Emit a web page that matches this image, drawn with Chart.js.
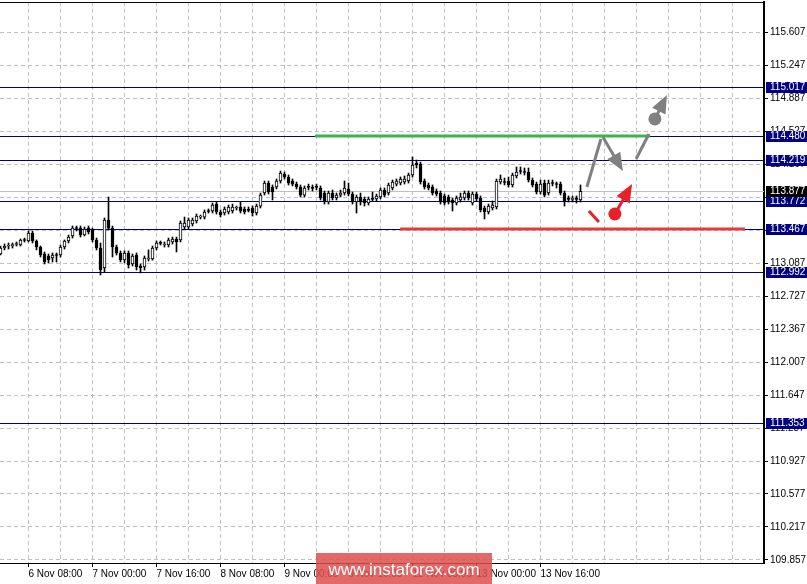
<!DOCTYPE html>
<html>
<head>
<meta charset="utf-8">
<script src="https://cdn.jsdelivr.net/npm/chart.js@4.4.1/dist/chart.umd.min.js"></script>
<style>
  html, body { margin: 0; padding: 0; background: #fff; }
  #wrap { width: 807px; height: 584px; position: relative; }
</style>
</head>
<body>
<div id="wrap"><canvas id="chart" width="807" height="584"></canvas></div>
<script>
// H1 candles, left to right (bar index 0 = 6 Nov 01:00)
const opens = [113.193,113.258,113.280,113.285,113.297,113.291,113.346,113.335,113.422,113.335,
  113.269,113.193,113.171,113.149,113.182,113.182,113.269,113.335,113.389,113.476,
  113.476,113.400,113.476,113.455,113.346,113.258,113.040,113.564,113.476,113.269,
  113.204,113.127,113.204,113.084,113.182,113.062,113.051,113.138,113.138,113.258,
  113.313,113.291,113.291,113.324,113.357,113.346,113.487,113.487,113.520,113.553,
  113.596,113.596,113.662,113.662,113.738,113.651,113.640,113.651,113.662,113.695,
  113.706,113.684,113.673,113.695,113.640,113.716,113.858,113.967,113.924,113.924,
  113.989,114.066,114.033,113.989,113.956,113.924,113.836,113.924,113.913,113.924,
  113.913,113.858,113.760,113.858,113.804,113.836,113.858,113.902,113.847,113.760,
  113.815,113.793,113.749,113.793,113.793,113.815,113.891,113.858,113.913,113.956,
  113.967,113.978,113.989,114.055,114.185,114.175,113.989,113.946,113.924,113.880,
  113.858,113.826,113.815,113.782,113.749,113.782,113.804,113.858,113.749,113.847,
  113.804,113.695,113.651,113.695,113.706,113.978,113.978,113.989,113.946,114.044,
  114.098,114.087,114.087,114.000,113.956,113.869,113.967,113.858,113.967,113.956,
  113.956,113.858,113.793,113.788,113.793,113.782];
const closes = [113.258,113.280,113.291,113.295,113.302,113.346,113.340,113.422,113.335,113.269,
  113.182,113.106,113.127,113.182,113.177,113.269,113.335,113.378,113.476,113.471,
  113.400,113.466,113.433,113.346,113.258,113.018,113.564,113.476,113.269,113.204,
  113.127,113.204,113.073,113.171,113.051,113.040,113.149,113.143,113.258,113.313,
  113.308,113.297,113.346,113.357,113.324,113.531,113.531,113.564,113.564,113.607,
  113.601,113.651,113.657,113.727,113.651,113.618,113.684,113.706,113.706,113.700,
  113.662,113.651,113.668,113.640,113.716,113.836,113.967,113.869,113.869,113.989,
  114.076,114.033,113.967,113.956,113.924,113.836,113.913,113.919,113.908,113.919,
  113.804,113.760,113.858,113.804,113.836,113.858,113.913,113.847,113.760,113.815,
  113.760,113.749,113.793,113.788,113.826,113.891,113.836,113.946,113.978,113.989,
  114.011,114.011,114.055,114.164,114.164,113.978,113.924,113.913,113.858,113.847,
  113.760,113.749,113.760,113.749,113.804,113.815,113.858,113.804,113.847,113.793,
  113.673,113.651,113.716,113.727,113.989,114.011,113.973,113.946,114.055,114.087,
  114.093,114.082,114.000,113.946,113.869,113.956,113.836,113.967,113.962,113.951,
  113.858,113.760,113.788,113.793,113.788,113.877];
const highs = [113.280,113.302,113.313,113.313,113.324,113.357,113.367,113.444,113.444,113.346,
  113.280,113.215,113.193,113.204,113.204,113.291,113.346,113.400,113.498,113.498,
  113.498,113.487,113.498,113.476,113.367,113.313,113.586,113.815,113.498,113.291,
  113.226,113.226,113.226,113.193,113.204,113.084,113.171,113.237,113.280,113.335,
  113.335,113.324,113.367,113.378,113.378,113.553,113.596,113.586,113.586,113.629,
  113.618,113.673,113.684,113.749,113.760,113.673,113.706,113.727,113.738,113.716,
  113.760,113.706,113.706,113.716,113.738,113.858,113.989,113.989,113.946,114.011,
  114.098,114.087,114.055,114.011,113.978,113.946,113.935,113.956,113.946,113.956,
  113.935,113.880,113.880,113.891,113.858,113.891,113.989,113.967,113.869,113.836,
  113.858,113.815,113.815,113.869,113.847,113.913,113.913,113.967,114.000,114.011,
  114.033,114.044,114.076,114.251,114.218,114.196,114.011,113.967,113.946,113.902,
  113.880,113.847,113.836,113.804,113.826,113.858,113.880,113.880,113.869,113.869,
  113.826,113.716,113.738,113.771,114.011,114.055,114.022,114.033,114.076,114.142,
  114.142,114.131,114.131,114.022,113.978,114.000,114.000,114.000,114.000,113.978,
  113.978,113.880,113.826,113.826,113.826,113.946];
const lows = [113.182,113.237,113.247,113.258,113.280,113.280,113.324,113.324,113.313,113.237,
  113.160,113.084,113.095,113.106,113.106,113.160,113.247,113.313,113.367,113.444,
  113.378,113.389,113.411,113.324,113.237,112.964,112.997,113.455,113.160,113.182,
  113.106,113.095,113.040,113.062,113.018,112.986,113.018,113.116,113.127,113.237,
  113.291,113.269,113.269,113.302,113.215,113.324,113.466,113.466,113.498,113.531,
  113.575,113.575,113.640,113.640,113.629,113.596,113.618,113.629,113.640,113.673,
  113.640,113.629,113.651,113.607,113.618,113.695,113.836,113.847,113.782,113.902,
  113.967,114.011,113.946,113.935,113.902,113.815,113.815,113.891,113.880,113.891,
  113.782,113.738,113.738,113.782,113.782,113.815,113.836,113.826,113.738,113.640,
  113.727,113.716,113.727,113.771,113.771,113.793,113.815,113.836,113.891,113.935,
  113.946,113.956,113.967,114.033,114.131,113.956,113.902,113.891,113.836,113.826,
  113.738,113.727,113.738,113.662,113.727,113.760,113.782,113.782,113.727,113.771,
  113.651,113.575,113.629,113.673,113.684,113.956,113.946,113.924,113.924,114.022,
  114.066,114.055,113.978,113.924,113.847,113.847,113.815,113.836,113.935,113.913,
  113.836,113.716,113.760,113.760,113.749,113.760];

// axis labels
const yTickLabels = ['109.857','110.217','110.577','110.927','111.287','111.647','112.007','112.367',
  '112.727','113.087','113.447','113.807','114.167','114.527','114.887','115.247','115.607'];
const xTickLabels = ['6 Nov 08:00','7 Nov 00:00','7 Nov 16:00','8 Nov 08:00','9 Nov 00:00',
  '9 Nov 16:00','12 Nov 08:00','13 Nov 00:00','13 Nov 16:00'];

// horizontal levels (navy) and current price
const levelValues = [115.017, 114.480, 114.219, 113.772, 113.467, 112.992, 111.353];
const currentPrice = 113.877;

// target lines: [fromBar, toBar, price]
const greenLine = [78.6, 162.4, 114.480];
const redLine = [99.9, 186.1, 113.467];

// forecast strokes: start bar, start price, end bar, end price
const grayLegs = [[146.6, 113.924, 150.1, 114.447], [150.6, 114.469, 155.6, 114.098],
                  [158.9, 114.229, 162.1, 114.502], [163.6, 114.666, 166.6, 114.927]];
const grayHeads = [false, true, false, true];
const redLegs = [[147.1, 113.662, 149.6, 113.542], [153.6, 113.629, 157.9, 113.956]];
const redHeads = [false, true];

const FONT = "'Liberation Sans', Arial, sans-serif";

const barIdx = opens.map((_, i) => i);
const bodies = barIdx.map(i => ({ x: i, y: [opens[i], closes[i]] }));
const wicks = barIdx.map(i => ({ x: i, y: [lows[i], highs[i]] }));
const bodyColors = barIdx.map(i => closes[i] >= opens[i] ? '#ffffff' : '#000000');

const gridBars = Array.from({ length: 23 }, (_, k) => 7 + 8 * k);
function xLabelAt(k) {
  return (k % 2 === 0 && k / 2 < xTickLabels.length) ? xTickLabels[k / 2] : '';
}

function drawArrow(ctx, x1, y1, x2, y2, color, head) {
  const a = Math.atan2(y2 - y1, x2 - x1);
  const L = 18, W = 7.5;
  const ex = head ? x2 - Math.cos(a) * L * 0.7 : x2;
  const ey = head ? y2 - Math.sin(a) * L * 0.7 : y2;
  ctx.strokeStyle = color;
  ctx.lineWidth = 3;
  ctx.lineCap = 'butt';
  ctx.beginPath(); ctx.moveTo(x1, y1); ctx.lineTo(ex, ey); ctx.stroke();
  if (head) {
    const bx = x2 - Math.cos(a) * L, by = y2 - Math.sin(a) * L;
    ctx.fillStyle = color;
    ctx.beginPath();
    ctx.moveTo(x2, y2);
    ctx.lineTo(bx + Math.sin(a) * W, by - Math.cos(a) * W);
    ctx.lineTo(bx - Math.sin(a) * W, by + Math.cos(a) * W);
    ctx.closePath();
    ctx.fill();
  }
}

const overlayPlugin = {
  id: 'overlay',
  beforeDatasetsDraw(chart) {
    const { ctx, chartArea: ca, scales: { y } } = chart;
    ctx.save();
    ctx.lineWidth = 1;
    const cy = Math.round(y.getPixelForValue(currentPrice)) + 0.5;
    ctx.strokeStyle = '#c0c0c0';
    ctx.beginPath(); ctx.moveTo(ca.left, cy); ctx.lineTo(ca.right, cy); ctx.stroke();
    ctx.strokeStyle = '#000080';
    levelValues.forEach(v => {
      const py = Math.round(y.getPixelForValue(v)) + 0.5;
      ctx.beginPath(); ctx.moveTo(ca.left, py); ctx.lineTo(ca.right, py); ctx.stroke();
    });
    ctx.restore();
  },
  afterDatasetsDraw(chart) {
    const { ctx, scales: { x, y } } = chart;
    ctx.save();
    ctx.lineWidth = 3;
    [[greenLine, '#3cb44b'], [redLine, '#e8383d']].forEach(([ln, col]) => {
      const py = y.getPixelForValue(ln[2]);
      ctx.strokeStyle = col;
      ctx.beginPath(); ctx.moveTo(x.getPixelForValue(ln[0]), py); ctx.lineTo(x.getPixelForValue(ln[1]), py); ctx.stroke();
    });
    const legs = (list, heads, col) => list.forEach((s, i) => {
      drawArrow(ctx, x.getPixelForValue(s[0]), y.getPixelForValue(s[1]),
        x.getPixelForValue(s[2]), y.getPixelForValue(s[3]), col, heads[i]);
    });
    legs(grayLegs, grayHeads, '#808080');
    legs(redLegs, redHeads, '#e8202a');
    // dots at the start of the final legs
    [[grayLegs[3], '#808080'], [redLegs[1], '#e8202a']].forEach(([s, col]) => {
      ctx.fillStyle = col;
      ctx.beginPath();
      ctx.arc(x.getPixelForValue(s[0]), y.getPixelForValue(s[1]), 6.5, 0, Math.PI * 2);
      ctx.fill();
    });
    ctx.restore();
  },
  afterDraw(chart) {
    const { ctx, chartArea: ca, scales: { y } } = chart;
    ctx.save();
    // top frame line
    ctx.strokeStyle = '#000';
    ctx.lineWidth = 1;
    ctx.beginPath(); ctx.moveTo(ca.left, ca.top + 0.5); ctx.lineTo(ca.right, ca.top + 0.5); ctx.stroke();
    // price boxes
    ctx.font = '10px ' + FONT;
    ctx.textBaseline = 'middle';
    ctx.textAlign = 'left';
    const box = (v, bg) => {
      const py = Math.round(y.getPixelForValue(v));
      ctx.fillStyle = bg;
      ctx.fillRect(ca.right + 2, py - 5, 41, 11);
      ctx.fillStyle = '#fff';
      ctx.fillText(v.toFixed(3), ca.right + 6, py + 0.5);
    };
    levelValues.forEach(v => box(v, '#000080'));
    box(currentPrice, '#000000');
    // watermark
    ctx.fillStyle = 'rgba(222, 78, 78, 0.85)';
    ctx.fillRect(316, 553, 176, 31);
    ctx.fillStyle = '#fff';
    ctx.font = '17px ' + FONT;
    ctx.textAlign = 'center';
    ctx.fillText('www.instaforex.com', 404, 570);
    ctx.restore();
  }
};

new Chart(document.getElementById('chart'), {
  type: 'bar',
  data: {
    datasets: [
      { data: bodies, backgroundColor: bodyColors, borderColor: '#000', borderWidth: 1,
        borderSkipped: false, barThickness: 3, maxBarThickness: 3, minBarLength: 1,
        grouped: false, order: 0 },
      { data: wicks, backgroundColor: '#000', borderWidth: 0,
        barThickness: 1, maxBarThickness: 1, grouped: false, order: 1 }
    ]
  },
  options: {
    responsive: false,
    animation: false,
    layout: { padding: { top: 2, left: 0, right: 0, bottom: 0 } },
    plugins: { legend: { display: false }, tooltip: { enabled: false } },
    scales: {
      x: {
        type: 'linear', min: -0.125, max: 190.875, offset: false,
        afterBuildTicks: s => { s.ticks = gridBars.map(v => ({ value: v })); },
        ticks: { callback: (v, i) => xLabelAt(i), align: 'start', maxRotation: 0, autoSkip: false,
                 font: { family: FONT, size: 10 }, color: '#000', padding: 1 },
        grid: { color: '#c0c0c0', offset: false, tickLength: 4,
                tickColor: c => xLabelAt(c.index) ? '#000' : 'rgba(0,0,0,0)' },
        border: { display: true, color: '#000', width: 1, dash: [4, 3] },
        afterFit: s => { s.height = 21; s.paddingLeft = 0; s.paddingRight = 0; }
      },
      y: {
        position: 'right', min: 109.822, max: 115.942,
        afterBuildTicks: s => { s.ticks = yTickLabels.map(t => ({ value: parseFloat(t) })); },
        ticks: { callback: (v, i) => yTickLabels[i], autoSkip: false,
                 font: { family: FONT, size: 10 }, color: '#000', padding: 2 },
        grid: { color: '#c0c0c0', tickColor: '#000', tickLength: 4 },
        border: { display: true, color: '#000', width: 2, dash: [4, 3] },
        afterFit: s => { s.width = 43; s.paddingTop = 0; s.paddingBottom = 0; }
      }
    }
  },
  plugins: [overlayPlugin]
});
</script>
</body>
</html>
